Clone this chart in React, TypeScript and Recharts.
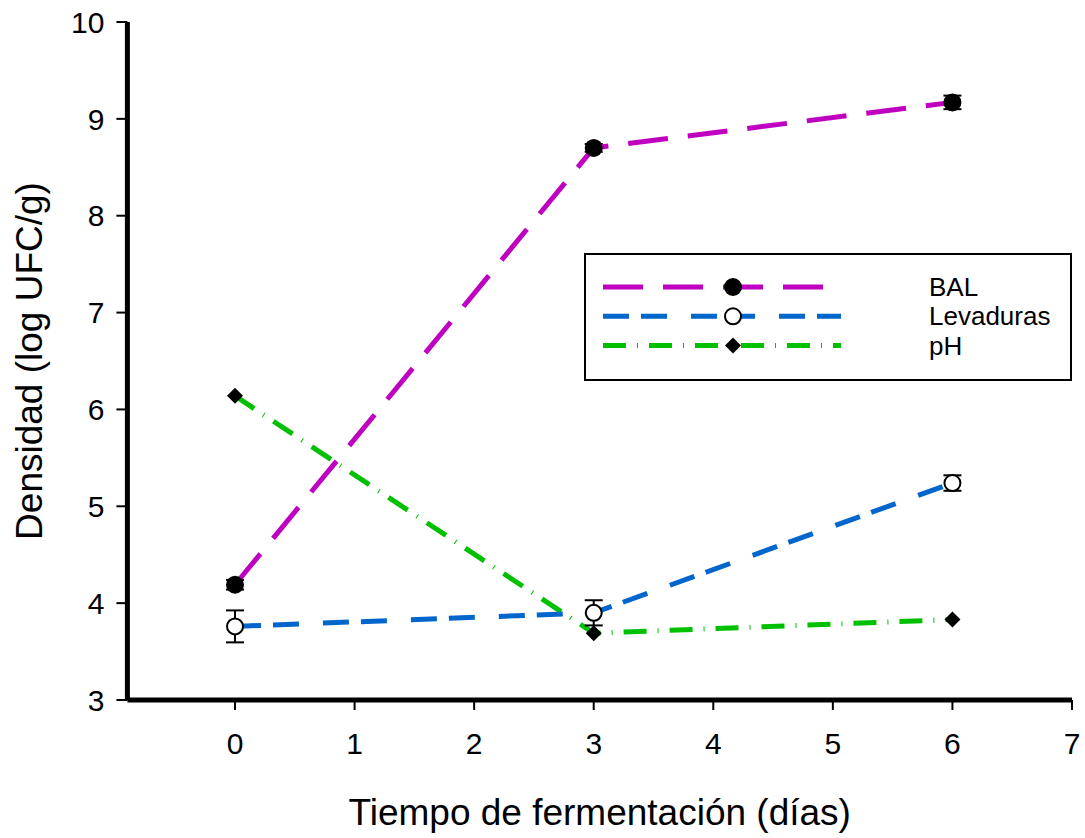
import React from 'react';
import { LineChart, Line, XAxis, YAxis, ErrorBar, Legend, Label } from 'recharts';

const days = [0, 3, 6];
const balValues = [4.19, 8.7, 9.17];
const balErrors = [0.05, 0.04, 0.07];
const levValues = [3.76, 3.9, 5.24];
const levErrors = [0.165, 0.13, 0.08];
const phValues = [6.14, 3.69, 3.83];
const xTicks = [0, 1, 2, 3, 4, 5, 6, 7];
const yTicks = [3, 4, 5, 6, 7, 8, 9, 10];
const seriesNames = ['BAL', 'Levaduras', 'pH'];

const data = days.map((d, i) => ({
  day: d,
  bal: balValues[i],
  balErr: balErrors[i],
  lev: levValues[i],
  levErr: levErrors[i],
  ph: phValues[i],
}));

const FONT = 'Liberation Sans, Arial, Helvetica, sans-serif';
const MAGENTA = '#C000C0';
const BLUE = '#0066CC';
const GREEN = '#00C000';
const DASH_BAL = '40 20';
const DASH_LEV = '26 12 26 24';
const DASH_PH = '23 11 1 11';

const FilledDot = (p: any) =>
  p.cx == null ? <g key={p.key} /> : <circle key={p.key} cx={p.cx} cy={p.cy} r={9} fill="#000" />;
const OpenDot = (p: any) =>
  p.cx == null ? <g key={p.key} /> : (
    <circle key={p.key} cx={p.cx} cy={p.cy} r={8} fill="#fff" stroke="#000" strokeWidth={2} />
  );
const diamondPoints = (cx: number, cy: number, s: number) =>
  `${cx},${cy - s} ${cx + s},${cy} ${cx},${cy + s} ${cx - s},${cy}`;
const DiamondDot = (p: any) =>
  p.cx == null ? <g key={p.key} /> : (
    <polygon key={p.key} points={diamondPoints(p.cx, p.cy, 8)} fill="#000" />
  );

const legendRows = [
  { name: seriesNames[0], color: MAGENTA, dash: DASH_BAL, marker: 'filled' },
  { name: seriesNames[1], color: BLUE, dash: DASH_LEV, marker: 'open' },
  { name: seriesNames[2], color: GREEN, dash: DASH_PH, marker: 'diamond' },
];

const LegendBox = () => (
  <svg width={488} height={128} style={{ display: 'block' }}>
    <rect x={1} y={1} width={486} height={126} fill="#fff" stroke="#000" strokeWidth={2} />
    {legendRows.map((r, i) => {
      const y = 34 + i * 29.3;
      return (
        <g key={r.name}>
          <line x1={19} x2={257} y1={y} y2={y} stroke={r.color} strokeWidth={5} strokeDasharray={r.dash} />
          {r.marker === 'filled' && <circle cx={149} cy={y} r={9} fill="#000" />}
          {r.marker === 'open' && <circle cx={149} cy={y} r={8} fill="#fff" stroke="#000" strokeWidth={2} />}
          {r.marker === 'diamond' && <polygon points={diamondPoints(149, y, 8)} fill="#000" />}
          <text x={345} y={y + 9} fontSize={26} fontFamily={FONT} fill="#000">
            {r.name}
          </text>
        </g>
      );
    })}
  </svg>
);

const YLabel = (props: any) => {
  const vb = props.viewBox || { x: 0, y: 22, width: 127, height: 678 };
  const x = vb.x + 42;
  const y = vb.y + vb.height / 2;
  return (
    <text x={x} y={y} transform={`rotate(-90 ${x} ${y})`} textAnchor="middle" fontSize={37} fontFamily={FONT} fill="#000">
      Densidad (log UFC/g)
    </text>
  );
};

const XLabel = (props: any) => {
  const vb = props.viewBox || { x: 127, y: 700, width: 945, height: 138 };
  const x = vb.x + vb.width / 2;
  const y = vb.y + 125;
  return (
    <text x={x} y={y} textAnchor="middle" fontSize={37} fontFamily={FONT} fill="#000">
      Tiempo de fermentación (días)
    </text>
  );
};

export default function App() {
  return (
    <div style={{ position: 'absolute', left: 0, top: 0, width: 1085, height: 838, background: '#fff' }}>
      <LineChart
        width={1085}
        height={838}
        data={data}
        margin={{ top: 22, right: 13, bottom: 0, left: 0 }}
        style={{ fontFamily: FONT }}
      >
        <XAxis
          dataKey="day"
          type="number"
          domain={[-0.9, 7]}
          ticks={xTicks}
          allowDataOverflow
          height={138}
          tickSize={10}
          tickMargin={23}
          tick={{ fontSize: 30, fill: '#000', fontFamily: FONT }}
          axisLine={{ stroke: '#000', strokeWidth: 5 }}
          tickLine={{ stroke: '#000', strokeWidth: 2 }}
        >
          <Label content={XLabel} />
        </XAxis>
        <YAxis
          type="number"
          domain={[3, 10]}
          ticks={yTicks}
          allowDataOverflow
          width={127.4}
          tickSize={11}
          tickMargin={12}
          tick={{ fontSize: 30, fill: '#000', fontFamily: FONT }}
          axisLine={{ stroke: '#000', strokeWidth: 5 }}
          tickLine={{ stroke: '#000', strokeWidth: 2 }}
        >
          <Label content={YLabel} />
        </YAxis>
        <Legend
          layout="vertical"
          align="center"
          verticalAlign="middle"
          content={LegendBox}
          wrapperStyle={{ position: 'absolute', left: 584, top: 253, width: 488, height: 128 }}
        />
        <Line
          dataKey="ph"
          name={seriesNames[2]}
          stroke={GREEN}
          strokeWidth={5}
          strokeDasharray={DASH_PH}
          dot={DiamondDot}
          activeDot={false}
          isAnimationActive={false}
          type="linear"
        />
        <Line
          dataKey="lev"
          name={seriesNames[1]}
          stroke={BLUE}
          strokeWidth={5}
          strokeDasharray={DASH_LEV}
          dot={OpenDot}
          activeDot={false}
          isAnimationActive={false}
          type="linear"
        >
          <ErrorBar dataKey="levErr" direction="y" width={9} stroke="#000" strokeWidth={2} />
        </Line>
        <Line
          dataKey="bal"
          name={seriesNames[0]}
          stroke={MAGENTA}
          strokeWidth={5}
          strokeDasharray={DASH_BAL}
          dot={FilledDot}
          activeDot={false}
          isAnimationActive={false}
          type="linear"
        >
          <ErrorBar dataKey="balErr" direction="y" width={9} stroke="#000" strokeWidth={2} />
        </Line>
      </LineChart>
    </div>
  );
}
